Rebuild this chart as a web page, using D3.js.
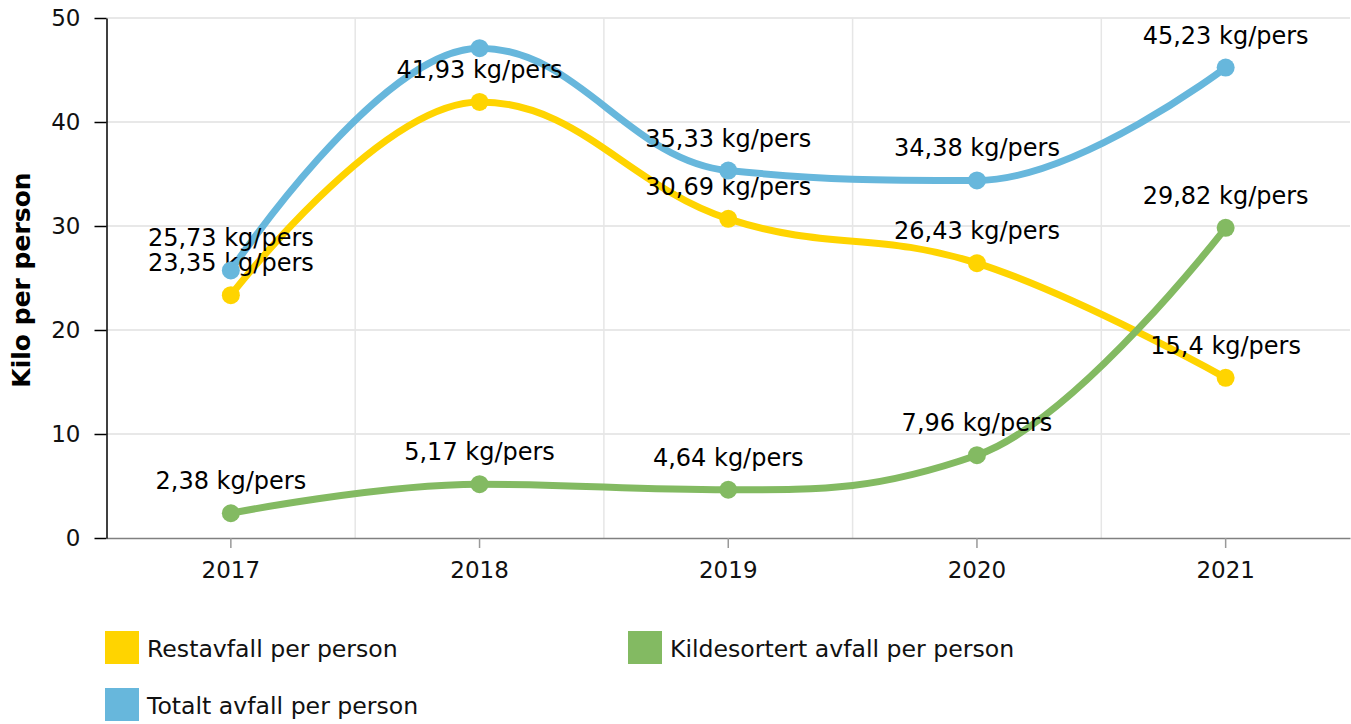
<!DOCTYPE html>
<html><head><meta charset="utf-8">
<script src="https://cdn.jsdelivr.net/npm/d3@7"></script>
<style>
html,body{margin:0;padding:0;background:#fff;}
text{font-family:"DejaVu Sans",Verdana,sans-serif;}
</style></head>
<body><svg id="c" width="1351" height="724"></svg>
<script>
const categories = ["2017","2018","2019","2020","2021"];
const restavfall = [23.35, 41.93, 30.69, 26.43, 15.4];
const kildesortert = [2.38, 5.17, 4.64, 7.96, 29.82];
const totalt = [25.73, 47.10, 35.33, 34.38, 45.23];
const yTicks = [0,10,20,30,40,50];
const seriesNames = ["Restavfall per person","Kildesortert avfall per person","Totalt avfall per person"];
const seriesColors = ["#FFD400","#83BA62","#67B7DC"];
const unit = " kg/pers";
const yTitle = "Kilo per person";

const series = [
  {name: seriesNames[0], values: restavfall, color: seriesColors[0]},
  {name: seriesNames[1], values: kildesortert, color: seriesColors[1]},
  {name: seriesNames[2], values: totalt, color: seriesColors[2]}
];

const svg = d3.select("#c");
const pLeft = 106.5, pRight = 1350, pTop = 18, pBottom = 538;
const x = d3.scaleBand().domain(categories).range([pLeft, pRight]);
const y = d3.scaleLinear().domain([0,50]).range([pBottom, pTop]);
const cx = c => x(c) + x.bandwidth()/2;

// grid
const g = svg.append("g");
g.selectAll("line.h").data(yTicks.filter(t=>t>0)).enter().append("line")
  .attr("x1", pLeft).attr("x2", pRight).attr("y1", d=>y(d)).attr("y2", d=>y(d))
  .attr("stroke","#e0e0e0").attr("stroke-width",1.5);
g.selectAll("line.v").data(categories.slice(1)).enter().append("line")
  .attr("x1", d=>x(d)).attr("x2", d=>x(d)).attr("y1", pTop).attr("y2", pBottom)
  .attr("stroke","#e6e6e6").attr("stroke-width",1.5);

// x axis
const xa = svg.append("g").attr("transform",`translate(0,${pBottom})`)
  .call(d3.axisBottom(x).tickSize(10).tickSizeOuter(0).tickPadding(14));
xa.select(".domain").attr("stroke","#808080").attr("stroke-width",1.5);
xa.selectAll(".tick line").attr("stroke","#999").attr("stroke-width",1.5);
xa.selectAll(".tick text").attr("font-size",23).attr("fill","#111").attr("font-family","DejaVu Sans");

// y axis
const ya = svg.append("g").attr("transform",`translate(${pLeft},0)`)
  .call(d3.axisLeft(y).tickValues(yTicks).tickSize(12).tickPadding(14).tickSizeOuter(0));
ya.select(".domain").attr("stroke","#000").attr("stroke-width",1.5);
ya.selectAll(".tick line").attr("stroke","#000").attr("stroke-width",1.5);
ya.selectAll(".tick text").attr("font-size",23).attr("fill","#111").attr("font-family","DejaVu Sans");

svg.append("text").attr("transform",`translate(30,${(pTop+pBottom)/2 + 2}) rotate(-90)`)
  .attr("text-anchor","middle").attr("font-size",25).attr("font-weight","bold")
  .attr("fill","#000").text(yTitle);

// Highcharts-style spline path
function splinePath(pts){
  const sm = 1.5, den = sm + 1;
  const rc = [];
  let d = `M${pts[0][0]},${pts[0][1]}`;
  for (let i=0;i<pts.length;i++){
    const [px,py] = pts[i];
    let lcx, lcy;
    if (i>0 && i<pts.length-1){
      const [lx,ly] = pts[i-1], [nx,ny] = pts[i+1];
      lcx = (sm*px+lx)/den; lcy = (sm*py+ly)/den;
      let rcx = (sm*px+nx)/den, rcy = (sm*py+ny)/den;
      let corr = 0;
      if (rcx !== lcx) corr = ((rcy-lcy)*(rcx-px))/(rcx-lcx) + py - rcy;
      lcy += corr; rcy += corr;
      if (lcy > ly && lcy > py){ lcy = Math.max(ly,py); rcy = 2*py-lcy; }
      else if (lcy < ly && lcy < py){ lcy = Math.min(ly,py); rcy = 2*py-lcy; }
      if (rcy > ny && rcy > py){ rcy = Math.max(ny,py); lcy = 2*py-rcy; }
      else if (rcy < ny && rcy < py){ rcy = Math.min(ny,py); lcy = 2*py-rcy; }
      rc[i] = [rcx, rcy];
    }
    if (i>0){
      const prev = rc[i-1] || pts[i-1];
      const lc = (lcx!==undefined) ? [lcx,lcy] : [px,py];
      d += `C${prev[0]},${prev[1]},${lc[0]},${lc[1]},${px},${py}`;
    }
  }
  return d;
}

series.forEach(s=>{
  const pts = categories.map((c,i)=>[cx(c), y(s.values[i])]);
  svg.append("path").attr("d", splinePath(pts)).attr("fill","none")
    .attr("stroke", s.color).attr("stroke-width",7).attr("stroke-linecap","round").attr("stroke-linejoin","round");
});

const fs = 24;
series.forEach(s=>{
  svg.append("g").selectAll("circle").data(categories).enter().append("circle")
    .attr("cx", c=>cx(c)).attr("cy",(c,i)=>y(s.values[i])).attr("r",9).attr("fill", s.color);
  const lab = svg.append("g");
  categories.forEach((c,i)=>{
    const by = y(s.values[i]) - 24;
    if (by - 0.73*fs < pTop) return; // label outside plot area: hidden
    lab.append("text").attr("x", cx(c)).attr("y", by).attr("text-anchor","middle")
      .attr("font-size", fs).attr("fill","#000")
      .text(String(s.values[i]).replace(".", ",") + unit);
  });
});

// legend
const legendPos = [[105,631],[628,631],[105,688]];
series.forEach((s,i)=>{
  const [lx,ly] = legendPos[i];
  svg.append("rect").attr("x",lx).attr("y",ly).attr("width",34).attr("height",33).attr("fill",s.color);
  svg.append("text").attr("x",lx+42).attr("y",ly+26).attr("font-size",23.6).attr("fill","#111").text(s.name);
});
</script></body></html>
